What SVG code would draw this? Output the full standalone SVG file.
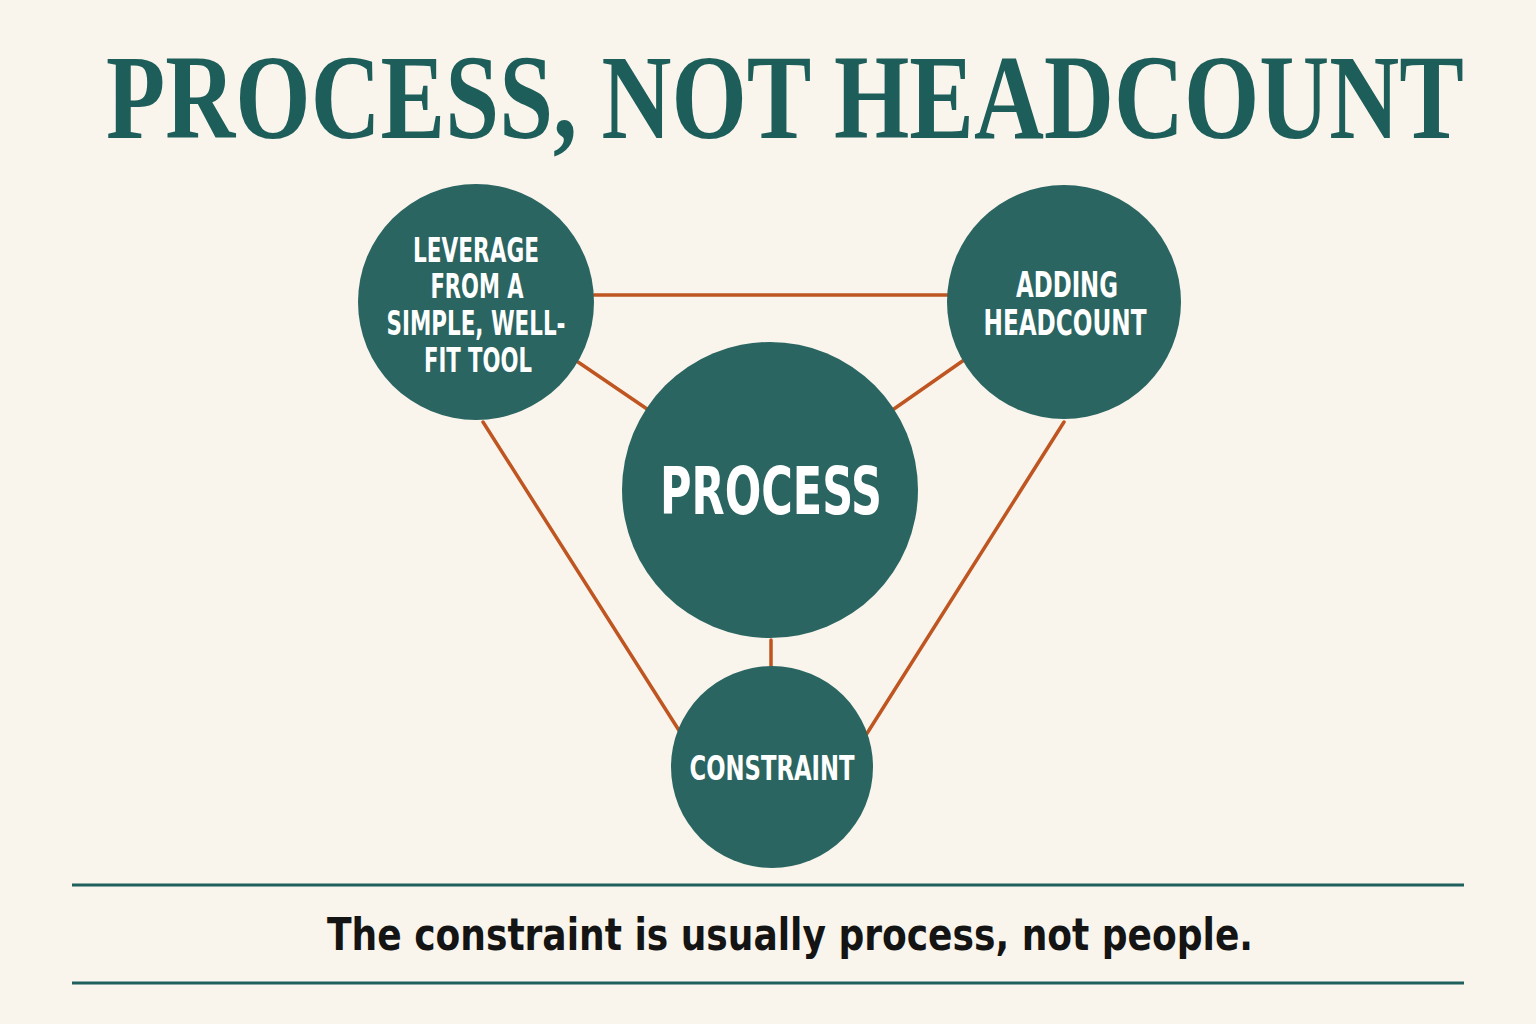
<svg xmlns="http://www.w3.org/2000/svg" width="1536" height="1024" viewBox="0 0 1536 1024">
  <style>
    .node { fill: #2a6562; }
    .lbl { fill: #ffffff; font-family: "DejaVu Sans Condensed", "DejaVu Sans", sans-serif; font-weight: bold; text-anchor: middle; }
    .edge { stroke: #bf5520; stroke-width: 3.5; fill: none; stroke-linecap: round; }
    .rule { stroke: #1f5f5c; stroke-width: 3; }
  </style>
  <rect width="1536" height="1024" fill="#f9f5ec"/>
  <text transform="translate(785,138) scale(0.801,1)" x="0" y="0" font-family="'Liberation Serif', serif" font-weight="bold" font-size="121" fill="#1d5e5a" text-anchor="middle">PROCESS, NOT HEADCOUNT</text>

  <g id="connectors">
    <line class="edge" x1="594" y1="295" x2="948" y2="295"/>
    <line class="edge" x1="578" y1="362" x2="650" y2="411"/>
    <line class="edge" x1="964" y1="360" x2="891" y2="411"/>
    <line class="edge" x1="771" y1="640" x2="771" y2="666"/>
    <line class="edge" x1="483" y1="422" x2="680" y2="732"/>
    <line class="edge" x1="1064" y1="422" x2="866" y2="735"/>
  </g>

  <g id="node-leverage">
    <circle class="node" cx="476" cy="302" r="118"/>
    <text class="lbl" font-size="33" x="476" y="262" textLength="126" lengthAdjust="spacingAndGlyphs">LEVERAGE</text>
    <text class="lbl" font-size="33" x="477" y="298" textLength="93" lengthAdjust="spacingAndGlyphs">FROM A</text>
    <text class="lbl" font-size="33" x="476" y="335" textLength="179" lengthAdjust="spacingAndGlyphs">SIMPLE, WELL-</text>
    <text class="lbl" font-size="33" x="478" y="372" textLength="108" lengthAdjust="spacingAndGlyphs">FIT TOOL</text>
  </g>

  <g id="node-headcount">
    <circle class="node" cx="1064" cy="302" r="117"/>
    <text class="lbl" font-size="36" x="1067" y="297" textLength="102" lengthAdjust="spacingAndGlyphs">ADDING</text>
    <text class="lbl" font-size="36" x="1065" y="335" textLength="163" lengthAdjust="spacingAndGlyphs">HEADCOUNT</text>
  </g>

  <g id="node-process">
    <circle class="node" cx="770" cy="490" r="148"/>
    <text class="lbl" font-size="65" x="771" y="514" textLength="222" lengthAdjust="spacingAndGlyphs">PROCESS</text>
  </g>

  <g id="node-constraint">
    <circle class="node" cx="772" cy="767" r="101"/>
    <text class="lbl" font-size="34" x="772" y="780" textLength="165" lengthAdjust="spacingAndGlyphs">CONSTRAINT</text>
  </g>

  <line class="rule" x1="72" y1="885" x2="1464" y2="885"/>
  <line class="rule" x1="72" y1="983" x2="1464" y2="983"/>
  <text x="790" y="950" font-family="'DejaVu Sans Condensed', 'DejaVu Sans', sans-serif" font-weight="bold" font-size="44" fill="#141414" text-anchor="middle" textLength="926" lengthAdjust="spacingAndGlyphs">The constraint is usually process, not people.</text>
</svg>
